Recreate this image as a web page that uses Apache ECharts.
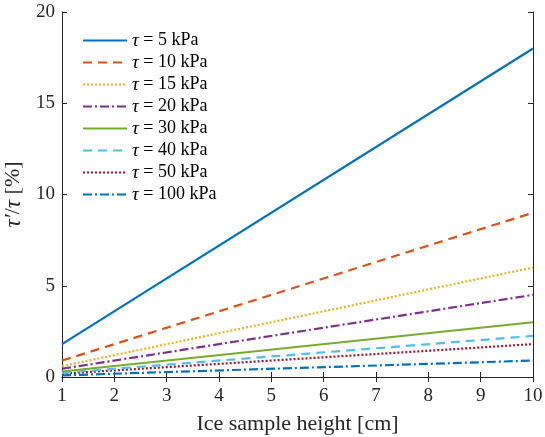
<!DOCTYPE html>
<html><head><meta charset="utf-8">
<script src="https://cdn.jsdelivr.net/npm/echarts@6/dist/echarts.min.js"></script>
<style>html,body{margin:0;padding:0;background:#fff}#c{width:545px;height:437px}</style>
</head><body><div id="c"></div>
<script>
const heights = [1, 10];
const tauLabels = ['5', '10', '15', '20', '30', '40', '50', '100'];
const s5 = [1.8, 18];
const s10 = [0.9, 9];
const s15 = [0.6, 6];
const s20 = [0.45, 4.5];
const s30 = [0.3, 3];
const s40 = [0.225, 2.25];
const s50 = [0.18, 1.8];
const s100 = [0.09, 0.9];
const seriesValues = [s5, s10, s15, s20, s30, s40, s50, s100];
const colors = ['#0072BD', '#D95319', '#EDB120', '#7E2F8E', '#77AC30', '#4DBEEE', '#A2142F', '#0072BD'];
const dashes = ['solid', [9, 6], [2, 2], [9, 3, 2, 3], 'solid', [9, 6], [2, 2], [9, 3, 2, 3]];

const font = 'Liberation Serif';
const chart = echarts.init(document.getElementById('c'));
const series = seriesValues.map((vals, i) => ({
  name: 'τ = ' + tauLabels[i] + ' kPa',
  type: 'line',
  symbol: 'none',
  xAxisIndex: 0, yAxisIndex: 0,
  data: heights.map((h, j) => [h, vals[j]]),
  lineStyle: { color: colors[i], width: 2.2, type: dashes[i] },
  itemStyle: { color: colors[i] },
  z: 10 - i * 0.1,
  animation: false
}));
const axisCommon = {
  axisLine: { show: true, lineStyle: { color: '#262626', width: 1 } },
  axisTick: { show: true, inside: true, length: 5, lineStyle: { color: '#262626' } },
  splitLine: { show: false }
};
chart.setOption({
  animation: false,
  backgroundColor: '#fff',
  grid: { left: 62, right: 12, top: 12, bottom: 60, outerBoundsMode: 'none', containLabel: false },
  legend: {
    left: 77, top: 26, orient: 'vertical',
    itemWidth: 44, itemHeight: 14, itemGap: 3,
    itemStyle: { opacity: 0 },
    data: series.map(s => s.name),
    formatter: n => '{i|τ}{t|' + n.slice(1) + '}',
    textStyle: {
      fontFamily: font, fontSize: 18, color: '#000',
      rich: {
        i: { fontFamily: font, fontStyle: 'italic', fontSize: 19, color: '#000' },
        t: { fontFamily: font, fontSize: 18, color: '#000' }
      }
    }
  },
  xAxis: [
    Object.assign({ type: 'value', min: 1, max: 10, interval: 1, position: 'bottom',
      name: 'Ice sample height [cm]', nameLocation: 'middle', nameGap: 36,
      nameTextStyle: { fontFamily: font, fontSize: 22, color: '#262626' },
      axisLabel: { fontFamily: font, fontSize: 19, color: '#262626', margin: 10 } }, axisCommon),
    Object.assign({ type: 'value', min: 1, max: 10, interval: 1, position: 'top',
      axisLabel: { show: false } }, axisCommon)
  ],
  yAxis: [
    Object.assign({ type: 'value', min: 0, max: 20, interval: 5, position: 'left',
      name: '{i|τ′}{t|/}{i|τ}{t| [%]}', nameLocation: 'middle', nameGap: 30,
      nameTextStyle: { fontFamily: font, fontSize: 22, color: '#262626',
        rich: { i: { fontFamily: font, fontStyle: 'italic', fontSize: 23, color: '#262626' },
                t: { fontFamily: font, fontSize: 22, color: '#262626' } } },
      axisLabel: { fontFamily: font, fontSize: 19, color: '#262626', margin: 7 } }, axisCommon),
    Object.assign({ type: 'value', min: 0, max: 20, interval: 5, position: 'right',
      axisLabel: { show: false } }, axisCommon)
  ],
  series: series
});
</script></body></html>
